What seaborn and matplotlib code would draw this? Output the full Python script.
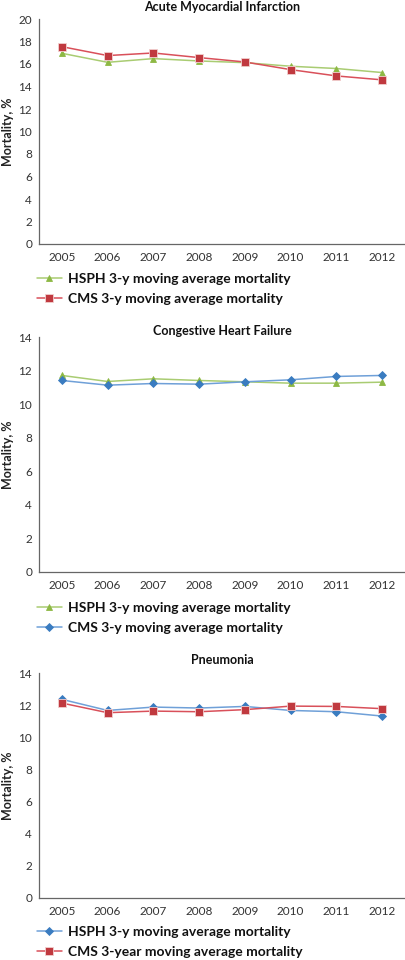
import matplotlib
matplotlib.use("Agg")
import matplotlib.pyplot as plt
import seaborn as sns
import pandas as pd
from matplotlib.ticker import FixedLocator

years = ['2005', '2006', '2007', '2008', '2009', '2010', '2011', '2012']

# Acute Myocardial Infarction
ami_hsph = [16.95, 16.15, 16.48, 16.27, 16.12, 15.80, 15.60, 15.24]
ami_cms = [17.54, 16.75, 16.98, 16.57, 16.18, 15.50, 14.94, 14.59]

# Congestive Heart Failure
chf_hsph = [11.71, 11.35, 11.51, 11.41, 11.33, 11.25, 11.25, 11.31]
chf_cms = [11.41, 11.13, 11.23, 11.19, 11.33, 11.45, 11.65, 11.71]

# Pneumonia
pn_hsph = [12.36, 11.67, 11.88, 11.82, 11.92, 11.67, 11.59, 11.32]
pn_cms = [12.13, 11.53, 11.63, 11.59, 11.72, 11.94, 11.92, 11.78]

titles = ['Acute Myocardial Infarction', 'Congestive Heart Failure', 'Pneumonia']
ymax = [20, 14, 14]

GREEN = ('#a9cc72', '#8db844')
RED = ('#d9505a', '#c0393f')
BLUE = ('#6fa0d8', '#3a7cc0')

panels = [
    [('HSPH 3-y moving average mortality', ami_hsph, GREEN, '^'),
     ('CMS 3-y moving average mortality', ami_cms, RED, 's')],
    [('HSPH 3-y moving average mortality', chf_hsph, GREEN, '^'),
     ('CMS 3-y moving average mortality', chf_cms, BLUE, 'D')],
    [('HSPH 3-y moving average mortality', pn_hsph, BLUE, 'D'),
     ('CMS 3-year moving average mortality', pn_cms, RED, 's')],
]

sns.set_style('white')
plt.rcParams['font.family'] = ['Lato', 'DejaVu Sans']

fig = plt.figure(figsize=(4.06, 9.6), dpi=100)
W, H = 406, 960
# axes boxes in pixels: left, top, right, bottom
boxes = [(39, 19, 405, 244), (39, 337, 405, 572), (39, 673, 405, 898)]
title_y = [7, 331, 660]
legend_y = [280, 609, 933]

for i, series in enumerate(panels):
    l, t, r, b = boxes[i]
    ax = fig.add_axes([l / W, 1 - b / H, (r - l) / W, (b - t) / H])
    handles = []
    for label, vals, (lc, mc), mk in series:
        df = pd.DataFrame({'year': years, 'value': vals})
        ms = 5.2 if mk == 's' else (5.0 if mk == '^' else 4.2)
        sns.lineplot(data=df, x='year', y='value', ax=ax, color=lc, linewidth=1.1,
                     marker=mk, markersize=ms, markerfacecolor=mc,
                     markeredgecolor='#f2d0d0' if mk == 's' else mc,
                     markeredgewidth=0.6, label=label, legend=False)
        handles.append(ax.lines[-1])
    ax.set_xlim(-0.5, len(years) - 0.5)
    ax.set_ylim(0, ymax[i])
    ax.set_yticks(range(0, ymax[i] + 1, 2))
    ax.set_xlabel('')
    ax.set_ylabel('Mortality, %', fontsize=9, fontweight='bold', color='#222222', labelpad=3)
    ax.xaxis.set_minor_locator(FixedLocator([k - 0.5 for k in range(len(years) + 1)]))
    ax.tick_params(axis='x', which='major', length=0, labelsize=8.5, colors='#333333', pad=6)
    ax.tick_params(axis='x', which='minor', length=4, direction='out', color='#555555', width=0.8)
    ax.tick_params(axis='y', length=3, direction='out', labelsize=8.5, colors='#555555',
                   labelcolor='#333333', pad=2)
    for s in ['top', 'right']:
        ax.spines[s].set_visible(False)
    for s in ['left', 'bottom']:
        ax.spines[s].set_color('#666666')
        ax.spines[s].set_linewidth(0.9)
    fig.text((l + r) / 2 / W, 1 - title_y[i] / H, titles[i], ha='center', va='center',
             fontsize=9, fontweight='bold', color='#111111')
    leg = ax.legend(handles=handles, loc='upper left',
                    bbox_to_anchor=(-2 / (r - l), 1 - (legend_y[i] - 7 - t) / (b - t)),
                    frameon=False, fontsize=10, handlelength=1.8, handletextpad=0.4,
                    labelspacing=0.6, borderaxespad=0, borderpad=0)
    for txt in leg.get_texts():
        txt.set_fontweight('bold')
        txt.set_color('#111111')

fig.savefig('out.png', dpi=100)
